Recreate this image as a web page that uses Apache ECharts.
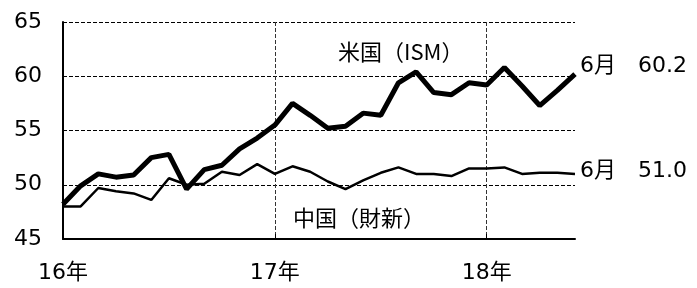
<!DOCTYPE html>
<html>
<head>
<meta charset="utf-8">
<script src="https://cdn.jsdelivr.net/npm/echarts@6/dist/echarts.min.js"></script>
<style>
  html, body { margin: 0; padding: 0; background: #fff; }
  #chart { width: 697px; height: 288px; }
</style>
</head>
<body>
<div id="chart"></div>
<script>
// months Jan 2016 .. Jun 2018
var months = [
  '2016-01','2016-02','2016-03','2016-04','2016-05','2016-06',
  '2016-07','2016-08','2016-09','2016-10','2016-11','2016-12',
  '2017-01','2017-02','2017-03','2017-04','2017-05','2017-06',
  '2017-07','2017-08','2017-09','2017-10','2017-11','2017-12',
  '2018-01','2018-02','2018-03','2018-04','2018-05','2018-06'
];
var yearLabels = { '2016-01': '16年', '2017-01': '17年', '2018-01': '18年' };

// 米国 ISM
var usIsm = [48.2, 49.9, 51.0, 50.7, 50.9, 52.5, 52.8, 49.6, 51.4, 51.8, 53.3, 54.3,
             55.5, 57.5, 56.4, 55.2, 55.4, 56.6, 56.4, 59.4, 60.4, 58.5, 58.3, 59.4,
             59.2, 60.8, 59.1, 57.3, 58.7, 60.2];
// 中国 財新
var cnCaixin = [48.0, 48.0, 49.7, 49.4, 49.2, 48.6, 50.6, 50.0, 50.1, 51.2, 50.9, 51.9,
                51.0, 51.7, 51.2, 50.3, 49.6, 50.4, 51.1, 51.6, 51.0, 51.0, 50.8, 51.5,
                51.5, 51.6, 51.0, 51.1, 51.1, 51.0];

var yTicks = { min: 45, max: 65, step: 5 };

var font = "'DejaVu Sans', 'Noto Sans CJK JP', sans-serif";
var cjkFont = "'Noto Sans CJK JP', sans-serif";
var chart = echarts.init(document.getElementById('chart'));

function everyYear(idx) { return idx % 12 === 0; }

var option = {
  animation: false,
  grid: { left: 63, right: 122, top: 22, bottom: 49 },
  xAxis: {
    type: 'category',
    data: months,
    boundaryGap: false,
    axisLine: { lineStyle: { color: '#000', width: 2 } },
    axisTick: { show: true, inside: true, length: 5, interval: everyYear, lineStyle: { color: '#000', width: 1 } },
    axisLabel: {
      interval: everyYear,
      color: '#000',
      fontFamily: font,
      fontSize: 22,
      margin: 23,
      formatter: function (v) { return yearLabels[v] || ''; }
    },
    splitLine: { show: true, interval: everyYear, lineStyle: { color: '#333', width: 1, type: [4, 2] } }
  },
  yAxis: {
    type: 'value',
    min: yTicks.min,
    max: yTicks.max,
    interval: yTicks.step,
    axisLine: { show: true, lineStyle: { color: '#000', width: 2 } },
    axisTick: { show: false },
    axisLabel: { color: '#000', fontFamily: font, fontSize: 22, margin: 21 },
    splitLine: { show: true, lineStyle: { color: '#000', width: 1, type: [4, 2] } }
  },
  series: [
    {
      name: '米国（ISM）',
      type: 'line',
      data: usIsm,
      symbol: 'none',
      lineStyle: { color: '#000', width: 5 },
      endLabel: {
        show: true, color: '#000', fontFamily: font, fontSize: 22, distance: 5, offset: [0, -8],
        formatter: function (p) { return '6月\u3000' + p.value.toFixed(1); }
      }
    },
    {
      name: '中国（財新）',
      type: 'line',
      data: cnCaixin,
      symbol: 'none',
      lineStyle: { color: '#000', width: 2.5 },
      endLabel: {
        show: true, color: '#000', fontFamily: font, fontSize: 22, distance: 5, offset: [0, -3],
        formatter: function (p) { return '6月\u3000' + p.value.toFixed(1); }
      }
    }
  ],
  graphic: [
    { type: 'text', left: 338, top: 41, style: { text: '米国（ISM）', font: '22px ' + cjkFont, fill: '#000' } },
    { type: 'text', left: 293, top: 207, style: { text: '中国（財新）', font: '22px ' + cjkFont, fill: '#000' } }
  ]
};

chart.setOption(option);
</script>
</body>
</html>
